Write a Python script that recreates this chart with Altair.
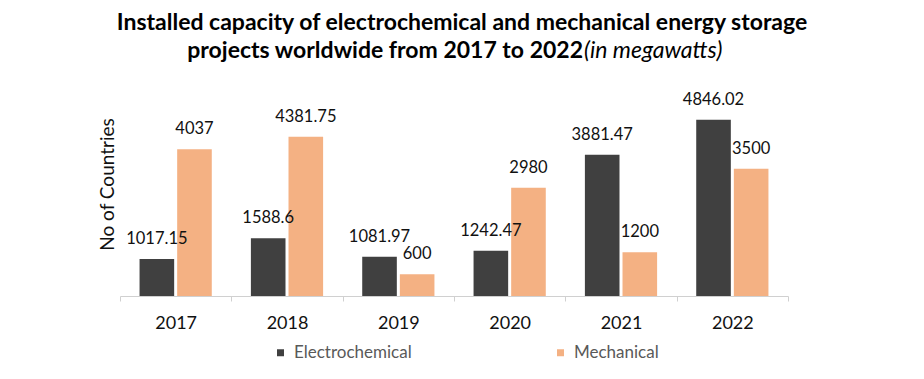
import altair as alt
import pandas as pd

years = ["2017", "2018", "2019", "2020", "2021", "2022"]
series = ["Electrochemical", "Mechanical"]
electrochemical = [1017.15, 1588.6, 1081.97, 1242.47, 3881.47, 4846.02]
mechanical = [4037, 4381.75, 600, 2980, 1200, 3500]
colors = ["#404040", "#F4B183"]

title_line1 = "Installed capacity of electrochemical and mechanical energy storage"
title_line2_bold = "projects worldwide from 2017 to 2022"
title_line2_italic = "(in megawatts)"

rows = []
for i, y in enumerate(years):
    rows.append({"year": y, "series": series[0], "value": electrochemical[i], "label": f"{electrochemical[i]:g}"})
    rows.append({"year": y, "series": series[1], "value": mechanical[i], "label": f"{mechanical[i]:g}"})
df = pd.DataFrame(rows)

FONT = "Lato"

x_enc = alt.X(
    "year:N",
    sort=years,
    scale=alt.Scale(paddingInner=0, paddingOuter=0),
    axis=alt.Axis(
        title=None,
        labelAngle=0,
        labelFontSize=18,
        labelColor="#111111",
        labelFont=FONT,
        labelPadding=13,
        domainColor="#D0D0D0",
        tickColor="#D0D0D0",
        tickSize=5,
        tickBand="extent",
        grid=False,
    ),
)
xoff = alt.XOffset("series:N", sort=series, scale=alt.Scale(paddingInner=0.08, paddingOuter=0.52))
y_enc = alt.Y(
    "value:Q",
    scale=alt.Scale(domain=[0, 5500]),
    axis=alt.Axis(
        title="No of Countries",
        titleFont=FONT,
        titleFontSize=19,
        titleFontWeight="normal",
        titleColor="#111111",
        titleX=-7,
        titleY=88,
        titleAlign="center",
        titleBaseline="alphabetic",
        labels=False,
        ticks=False,
        domain=False,
        grid=False,
    ),
)

base = alt.Chart(df)

bars = base.mark_bar().encode(
    x=x_enc,
    xOffset=xoff,
    y=y_enc,
    color=alt.Color(
        "series:N",
        sort=series,
        scale=alt.Scale(domain=series, range=colors),
        legend=alt.Legend(
            title=None,
            orient="none",
            legendX=152,
            legendY=248,
            direction="horizontal",
            symbolType="square",
            symbolSize=49,
            labelFontSize=17,
            labelFont=FONT,
            labelColor="#595959",
            columnPadding=140,
            labelOffset=5,
        ),
    ),
)

labels = base.mark_text(
    baseline="alphabetic", dy=-15, fontSize=16.5, font=FONT, color="#111111"
).encode(
    x=alt.X("year:N", sort=years),
    xOffset=alt.XOffset("series:N", sort=series),
    y="value:Q",
    text="label:N",
)

t1 = alt.Chart(pd.DataFrame({"t": [title_line1]})).mark_text(
    font=FONT, fontSize=23, fontWeight="bold", align="center", baseline="alphabetic", color="#000000"
).encode(x=alt.value(342), y=alt.value(-66), text="t:N")

t2a = alt.Chart(pd.DataFrame({"t": [title_line2_bold]})).mark_text(
    font=FONT, fontSize=23, fontWeight="bold", align="right", baseline="alphabetic", color="#000000"
).encode(x=alt.value(463), y=alt.value(-38), text="t:N")

t2b = alt.Chart(pd.DataFrame({"t": [title_line2_italic]})).mark_text(
    font=FONT, fontSize=23, fontStyle="italic", align="left", baseline="alphabetic", color="#000000"
).encode(x=alt.value(464), y=alt.value(-38), text="t:N")

chart = alt.layer(bars, labels, t1, t2a, t2b).properties(
    width=668,
    height=200,
    autosize=alt.AutoSizeParams(type="none"),
    padding={"left": 112, "top": 88, "right": 128, "bottom": 72},
    background="white",
).configure_view(stroke=None)

chart.save("out.html", embed_options={"renderer": "svg", "actions": False})
